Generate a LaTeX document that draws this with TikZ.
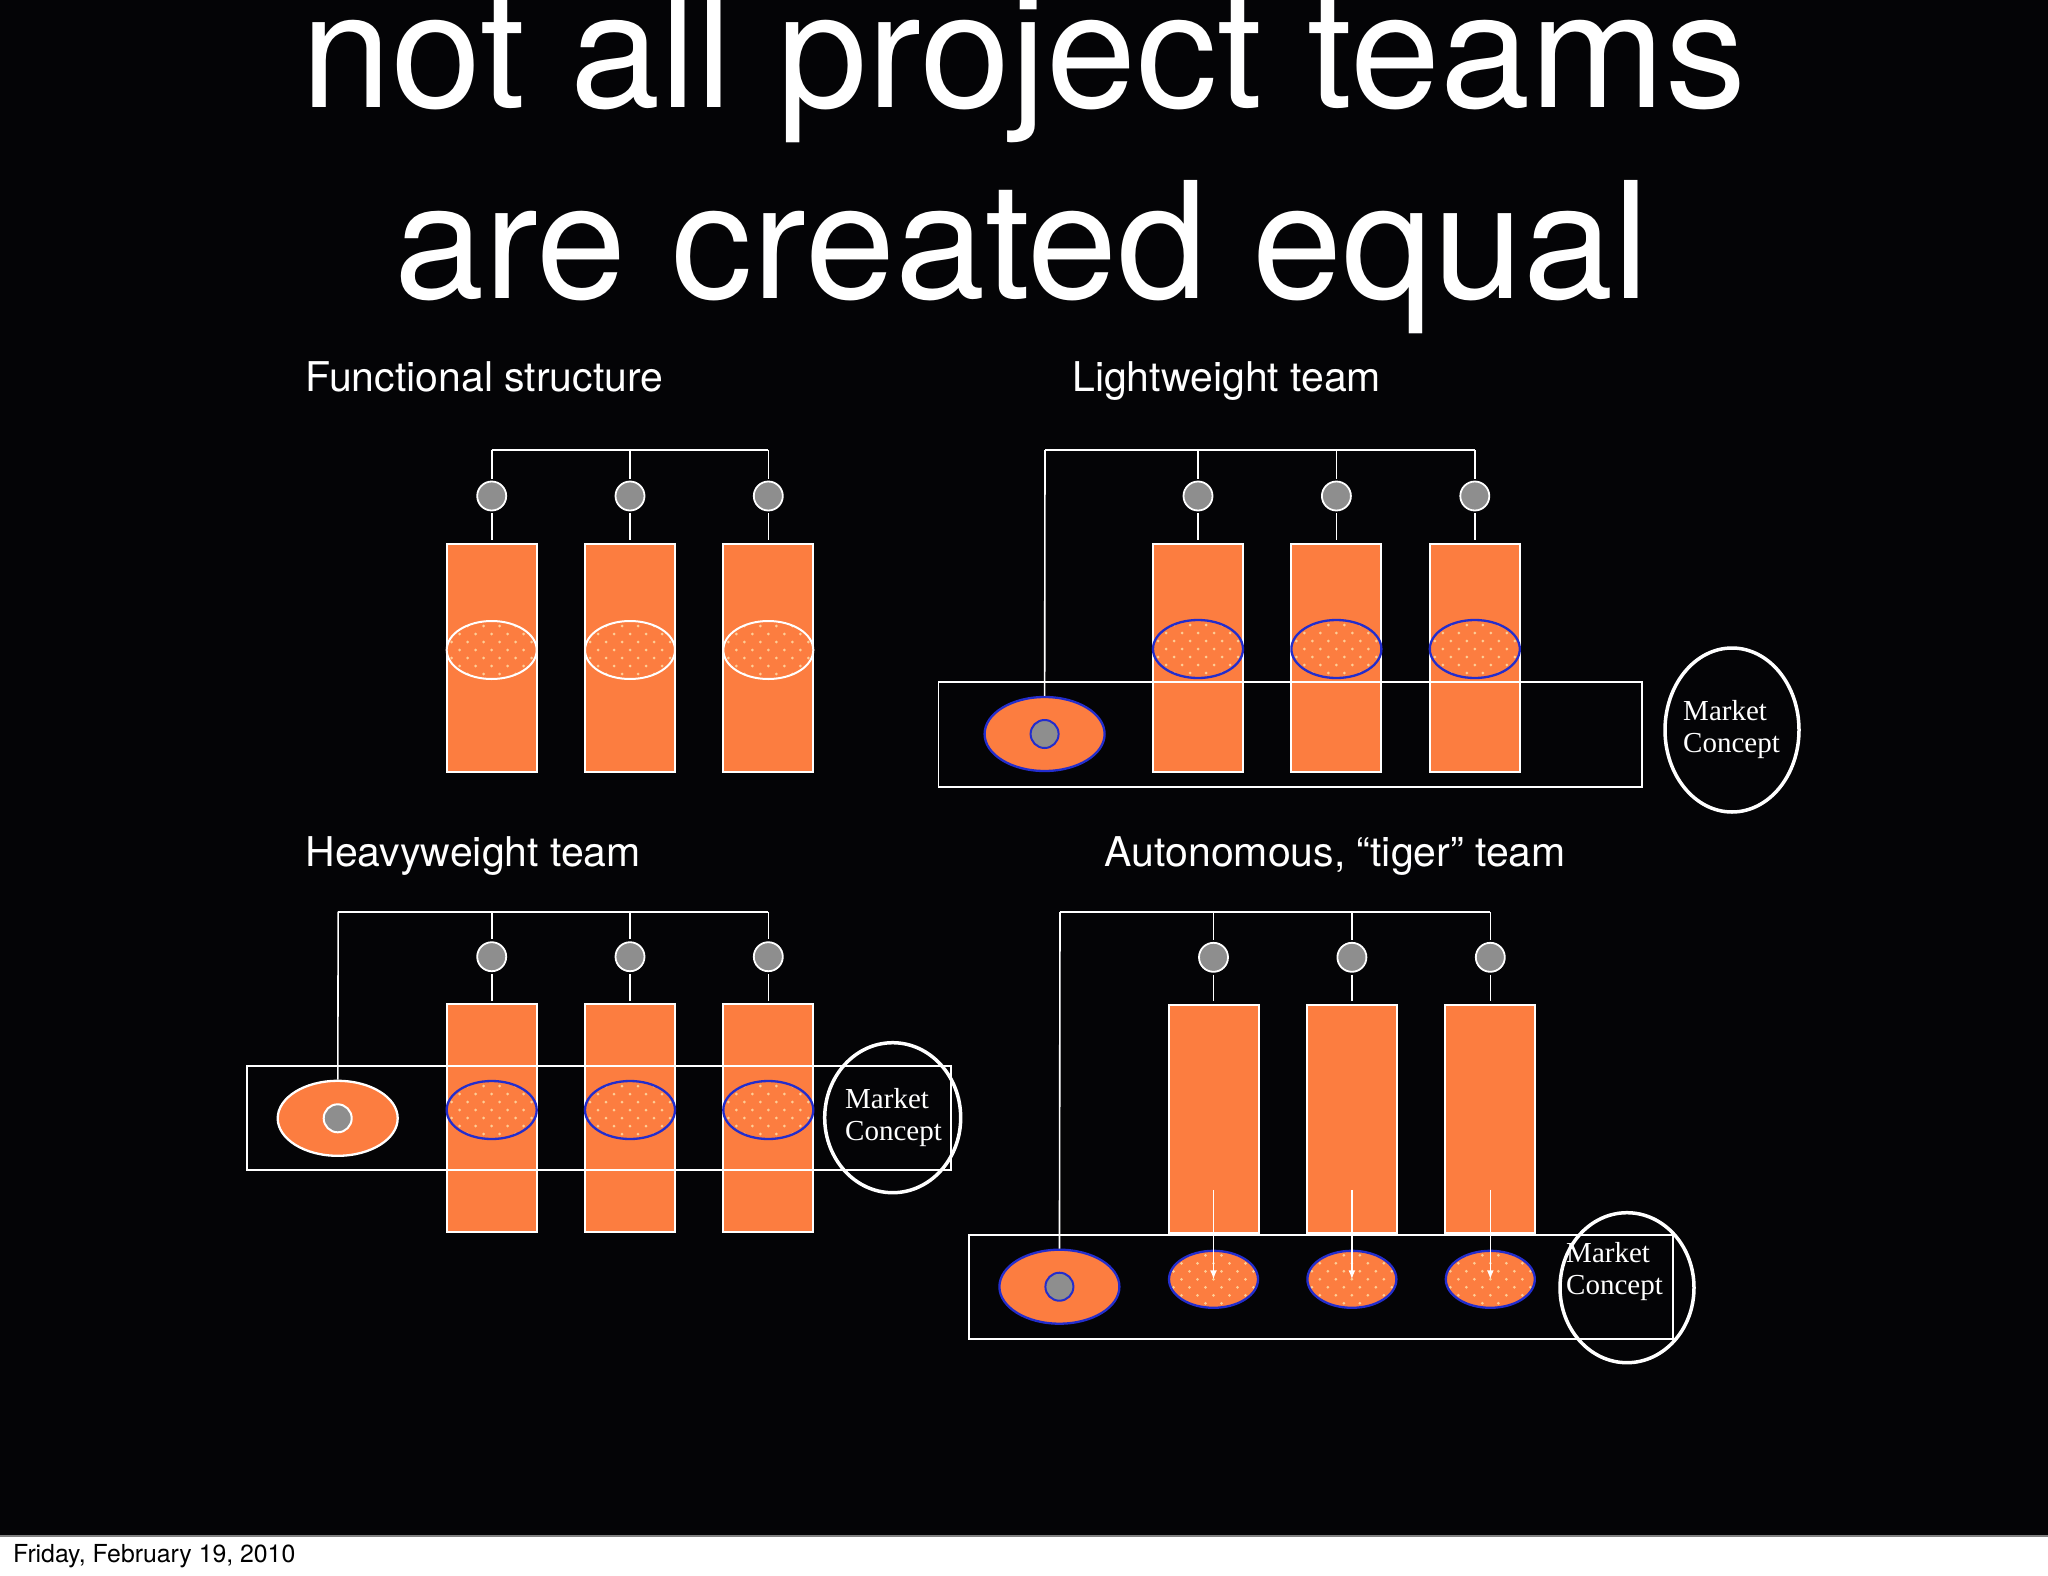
\documentclass[tikz,border=0pt]{standalone}
\usepackage{fontspec}
\setmainfont{TeX Gyre Heros}
\newfontfamily\mcfont{Liberation Serif}
\usetikzlibrary{shapes.geometric,arrows.meta}
\definecolor{barc}{RGB}{252,125,64}
\definecolor{dotc}{RGB}{252,205,150}
\definecolor{bluec}{RGB}{35,45,205}
\definecolor{greyc}{RGB}{142,142,142}
\definecolor{bgc}{RGB}{4,4,6}
\begin{document}
\begin{tikzpicture}[x=1pt,y=-1pt,
  barbox/.style={rectangle, draw=white, line width=2pt, fill=barc, minimum width=90pt, minimum height=228pt, inner sep=0pt},
  head/.style={circle, draw=white, line width=1.8pt, fill=greyc, minimum size=29pt, inner sep=0pt},
  dotty/.style={path picture={\foreach \j in {-5,...,5}{\foreach \i in {-4,...,4}{\pgfmathsetmacro\xx{\i*16+mod(abs(\j),2)*8}\fill[dotc] ([shift={(\xx pt,\j*8pt)}]path picture bounding box.center) circle (1.5pt);}}}},
  whiteell/.style={ellipse, draw=white, line width=2pt, fill=barc, dotty, minimum width=90pt, minimum height=58pt, inner sep=0pt},
  blueell/.style={ellipse, draw=bluec, line width=2.3pt, fill=barc, dotty, minimum width=90pt, minimum height=58pt, inner sep=0pt},
  leftell/.style={ellipse, line width=2.3pt, fill=barc, minimum width=120pt, minimum height=74pt, inner sep=0pt},
  core/.style={circle, line width=2pt, fill=greyc, minimum size=28pt, inner sep=0pt},
  conn/.style={draw=white, line width=1.6pt},
  arr/.style={draw=white, line width=1.6pt, -{Latex[length=9pt,width=7pt]}},
  framebox/.style={rectangle, draw=white, line width=1.8pt, inner sep=0pt},
  mcell/.style={ellipse, draw=white, line width=3.5pt, inner sep=0pt},
  sectlabel/.style={text=white, font=\fontsize{41}{48}\selectfont, anchor=base west, inner sep=0pt},
  mctext/.style={text=white, font=\mcfont\fontsize{29}{32}\selectfont, align=left, anchor=base west, inner sep=0pt},
  titletext/.style={text=white, font=\fontsize{162}{190}\selectfont, anchor=base, inner sep=0pt}
]
\useasboundingbox (0,0) rectangle (2048,1576);
\clip (0,0) rectangle (2048,1576);
\fill[bgc] (0,0) rectangle (2048,1535);
\fill[white] (0,1535) rectangle (2048,1576);
\draw[gray, line width=2pt] (0,1536) -- (2048,1536);

% title
\node[titletext] (title1) at (1024,108) {not all project teams};
\node[titletext] (title2) at (1022,298) {are created equal};

% section labels
\node[sectlabel] (lab1) at (305.3,391) {Functional structure};
\node[sectlabel] (lab2) at (1072,391) {Lightweight team};
\node[sectlabel] (lab3) at (305.3,866.7) {Heavyweight team};
\node[sectlabel] (lab4) at (1104.5,866.7) {Autonomous, “tiger” team};

% ---------- Functional structure ----------
\foreach \k/\x in {1/491.7,2/630,3/768.3}{
  \node[barbox] (fb\k) at (\x,657.8) {};
  \node[whiteell] (fe\k) at (\x,650) {};
  \node[head] (fh\k) at (\x,496) {};
  \coordinate (ft\k) at (\x,450);
}
\draw[conn] (ft1) -- (ft3);
\foreach \k in {1,2,3}{
  \draw[conn, shorten >=2pt] (ft\k) -- (fh\k);
  \draw[conn, shorten <=2pt, shorten >=2.5pt] (fh\k) -- (fb\k);
}

% ---------- Lightweight team ----------
\foreach \k/\x in {1/1198,2/1336.4,3/1474.8}{
  \node[barbox] (lb\k) at (\x,657.5) {};
  \node[blueell] (le\k) at (\x,649) {};
  \node[head] (lh\k) at (\x,496) {};
  \coordinate (lt\k) at (\x,450);
}
\coordinate (lt0) at (1045,450);
\node[framebox, minimum width=703.6pt, minimum height=104.4pt] (lframe) at (1290.2,734.5) {};
\node[leftell, draw=bluec] (lleft) at (1044.6,734) {};
\node[core, draw=bluec] (lcore) at (1044.6,734) {};
\draw[conn] (lt0) -- (lt3);
\draw[conn] (lt0) -- (lleft);
\foreach \k in {1,2,3}{
  \draw[conn, shorten >=2pt] (lt\k) -- (lh\k);
  \draw[conn, shorten <=2pt, shorten >=2.5pt] (lh\k) -- (lb\k);
}
\node[mcell, minimum width=134pt, minimum height=164pt] (lmc) at (1732,730) {};
\node[mctext] (lmct) at (1683,752) {Market\\Concept};

% ---------- Heavyweight team ----------
\foreach \k/\x in {1/491.7,2/630,3/768.3}{
  \node[barbox] (hb\k) at (\x,1118.3) {};
  \node[blueell] (he\k) at (\x,1110) {};
  \node[head] (hh\k) at (\x,956.7) {};
  \coordinate (ht\k) at (\x,911.7);
}
\coordinate (ht0) at (338.2,911.7);
\node[framebox, minimum width=704.2pt, minimum height=104pt] (hframe) at (599.1,1118) {};
\node[leftell, draw=white, minimum height=75pt] (hleft) at (337.7,1118.3) {};
\node[core, draw=white] (hcore) at (337.7,1118.3) {};
\draw[conn] (ht0) -- (ht3);
\draw[conn] (ht0) -- (hleft);
\foreach \k in {1,2,3}{
  \draw[conn, shorten >=2pt] (ht\k) -- (hh\k);
  \draw[conn, shorten <=2pt, shorten >=2.5pt] (hh\k) -- (hb\k);
}
\node[mcell, minimum width=136pt, minimum height=150pt] (hmc) at (892.7,1117.7) {};
\node[mctext] (hmct) at (845,1140) {Market\\Concept};

% ---------- Autonomous tiger team ----------
\foreach \k/\x in {1/1213.5,2/1351.9,3/1490.3}{
  \node[barbox] (tb\k) at (\x,1118.5) {};
  \node[head] (th\k) at (\x,957.3) {};
  \coordinate (tt\k) at (\x,912);
}
\coordinate (tt0) at (1060,912);
\node[framebox, minimum width=703.9pt, minimum height=104.3pt] (tframe) at (1320.65,1287.15) {};
\foreach \k/\x in {1/1213.5,2/1351.9,3/1490.3}{
  \node[blueell, minimum width=89pt, minimum height=57pt] (te\k) at (\x,1279.3) {};
}
\node[leftell, draw=bluec] (tleft) at (1059.4,1286.7) {};
\node[core, draw=bluec] (tcore) at (1059.4,1286.7) {};
\draw[conn] (tt0) -- (tt3);
\draw[conn] (tt0) -- (tleft);
\foreach \k in {1,2,3}{
  \draw[conn, shorten >=2pt] (tt\k) -- (th\k);
  \draw[conn, shorten <=2pt, shorten >=2.5pt] (th\k) -- (tb\k);
  \draw[arr] ([yshift=43.7pt]tb\k.south) -- (te\k.center);
}
\node[mcell, minimum width=134pt, minimum height=150pt] (tmc) at (1627,1287.7) {};
\node[mctext] (tmct) at (1566,1294) {Market\\Concept};

% footer date
\node[text=black, font=\fontsize{24.8}{28}\selectfont, anchor=base west, inner sep=0pt] (date) at (13,1562) {Friday, February 19, 2010};
\end{tikzpicture}
\end{document}
